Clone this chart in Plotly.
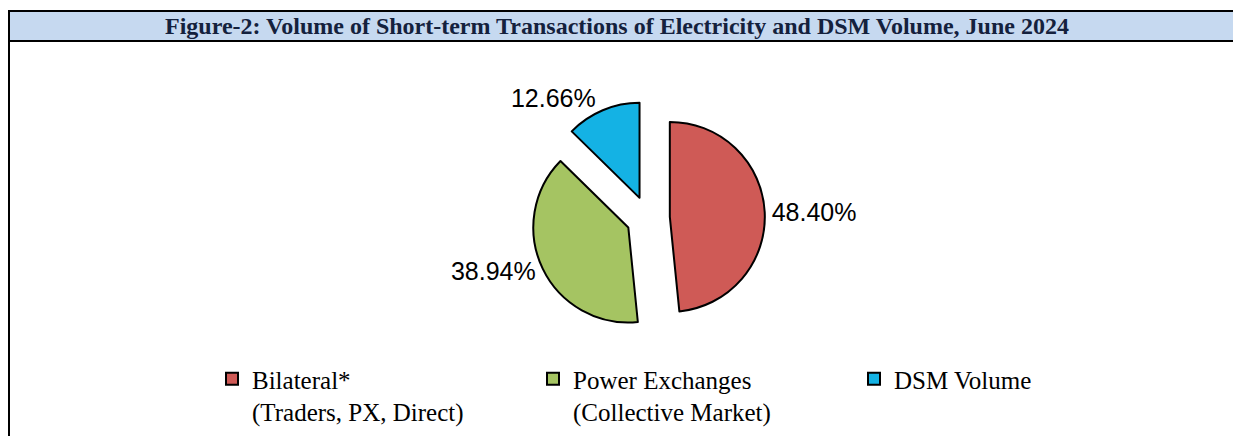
import plotly.graph_objects as go

# ---- data ----
categories = ["Bilateral*<br>(Traders, PX, Direct)",
              "Power Exchanges<br>(Collective Market)",
              "DSM Volume"]
shares = [48.40, 38.94, 12.66]
slice_colors = ["#CF5A56", "#A5C462", "#14B2E4"]
title_text = "Figure-2: Volume of Short-term Transactions of Electricity and DSM Volume, June 2024"

W, H = 1233, 436

def px_x(x):
    return x / W

def px_y(y):
    return 1 - y / H

# pie geometry (pixels)
cx, cy, r, pull = 648, 218, 95, 0.23
half = r * (1 + pull)

fig = go.Figure(go.Pie(
    labels=categories,
    values=shares,
    sort=False,
    direction="clockwise",
    rotation=0,
    pull=[pull] * len(shares),
    marker=dict(colors=slice_colors, line=dict(color="#000000", width=2)),
    texttemplate="%{value:.2f}%",
    textposition="outside",
    textfont=dict(family="Liberation Sans, Arial, sans-serif", size=25, color="#000000"),
    domain=dict(x=[px_x(cx - half), px_x(cx + half)],
                y=[px_y(cy + half), px_y(cy - half)]),
    hoverinfo="label+value",
))

shapes = [
    # title band
    dict(type="rect", xref="paper", yref="paper",
         x0=px_x(9), x1=1.05, y0=px_y(41), y1=px_y(11),
         fillcolor="#C6D9F0", line=dict(color="#000000", width=2), layer="below"),
    # left border
    dict(type="line", xref="paper", yref="paper",
         x0=px_x(9), x1=px_x(9), y0=-0.01, y1=px_y(11),
         line=dict(color="#000000", width=2)),
]

fig.update_layout(
    width=W, height=H,
    margin=dict(l=0, r=0, t=0, b=0),
    paper_bgcolor="#FFFFFF",
    plot_bgcolor="#FFFFFF",
    shapes=shapes,
    annotations=[dict(
        text="<b>" + title_text + "</b>",
        xref="paper", yref="paper", x=px_x(616.5), y=px_y(26),
        xanchor="center", yanchor="middle", showarrow=False,
        font=dict(family="Liberation Serif, Times New Roman, serif", size=24, color="#14213D"),
    )],
    showlegend=True,
    legend=dict(
        orientation="h",
        x=px_x(212), xanchor="left",
        y=px_y(356), yanchor="top",
        entrywidth=276, entrywidthmode="pixels",
        valign="top",
        traceorder="normal",
        font=dict(family="Liberation Serif, Times New Roman, serif", size=25, color="#000000"),
        bgcolor="rgba(0,0,0,0)",
    ),
)

fig.write_html("out.html", config={"displayModeBar": False},
               post_script="document.body.style.margin='0';document.body.style.overflow='hidden';")
